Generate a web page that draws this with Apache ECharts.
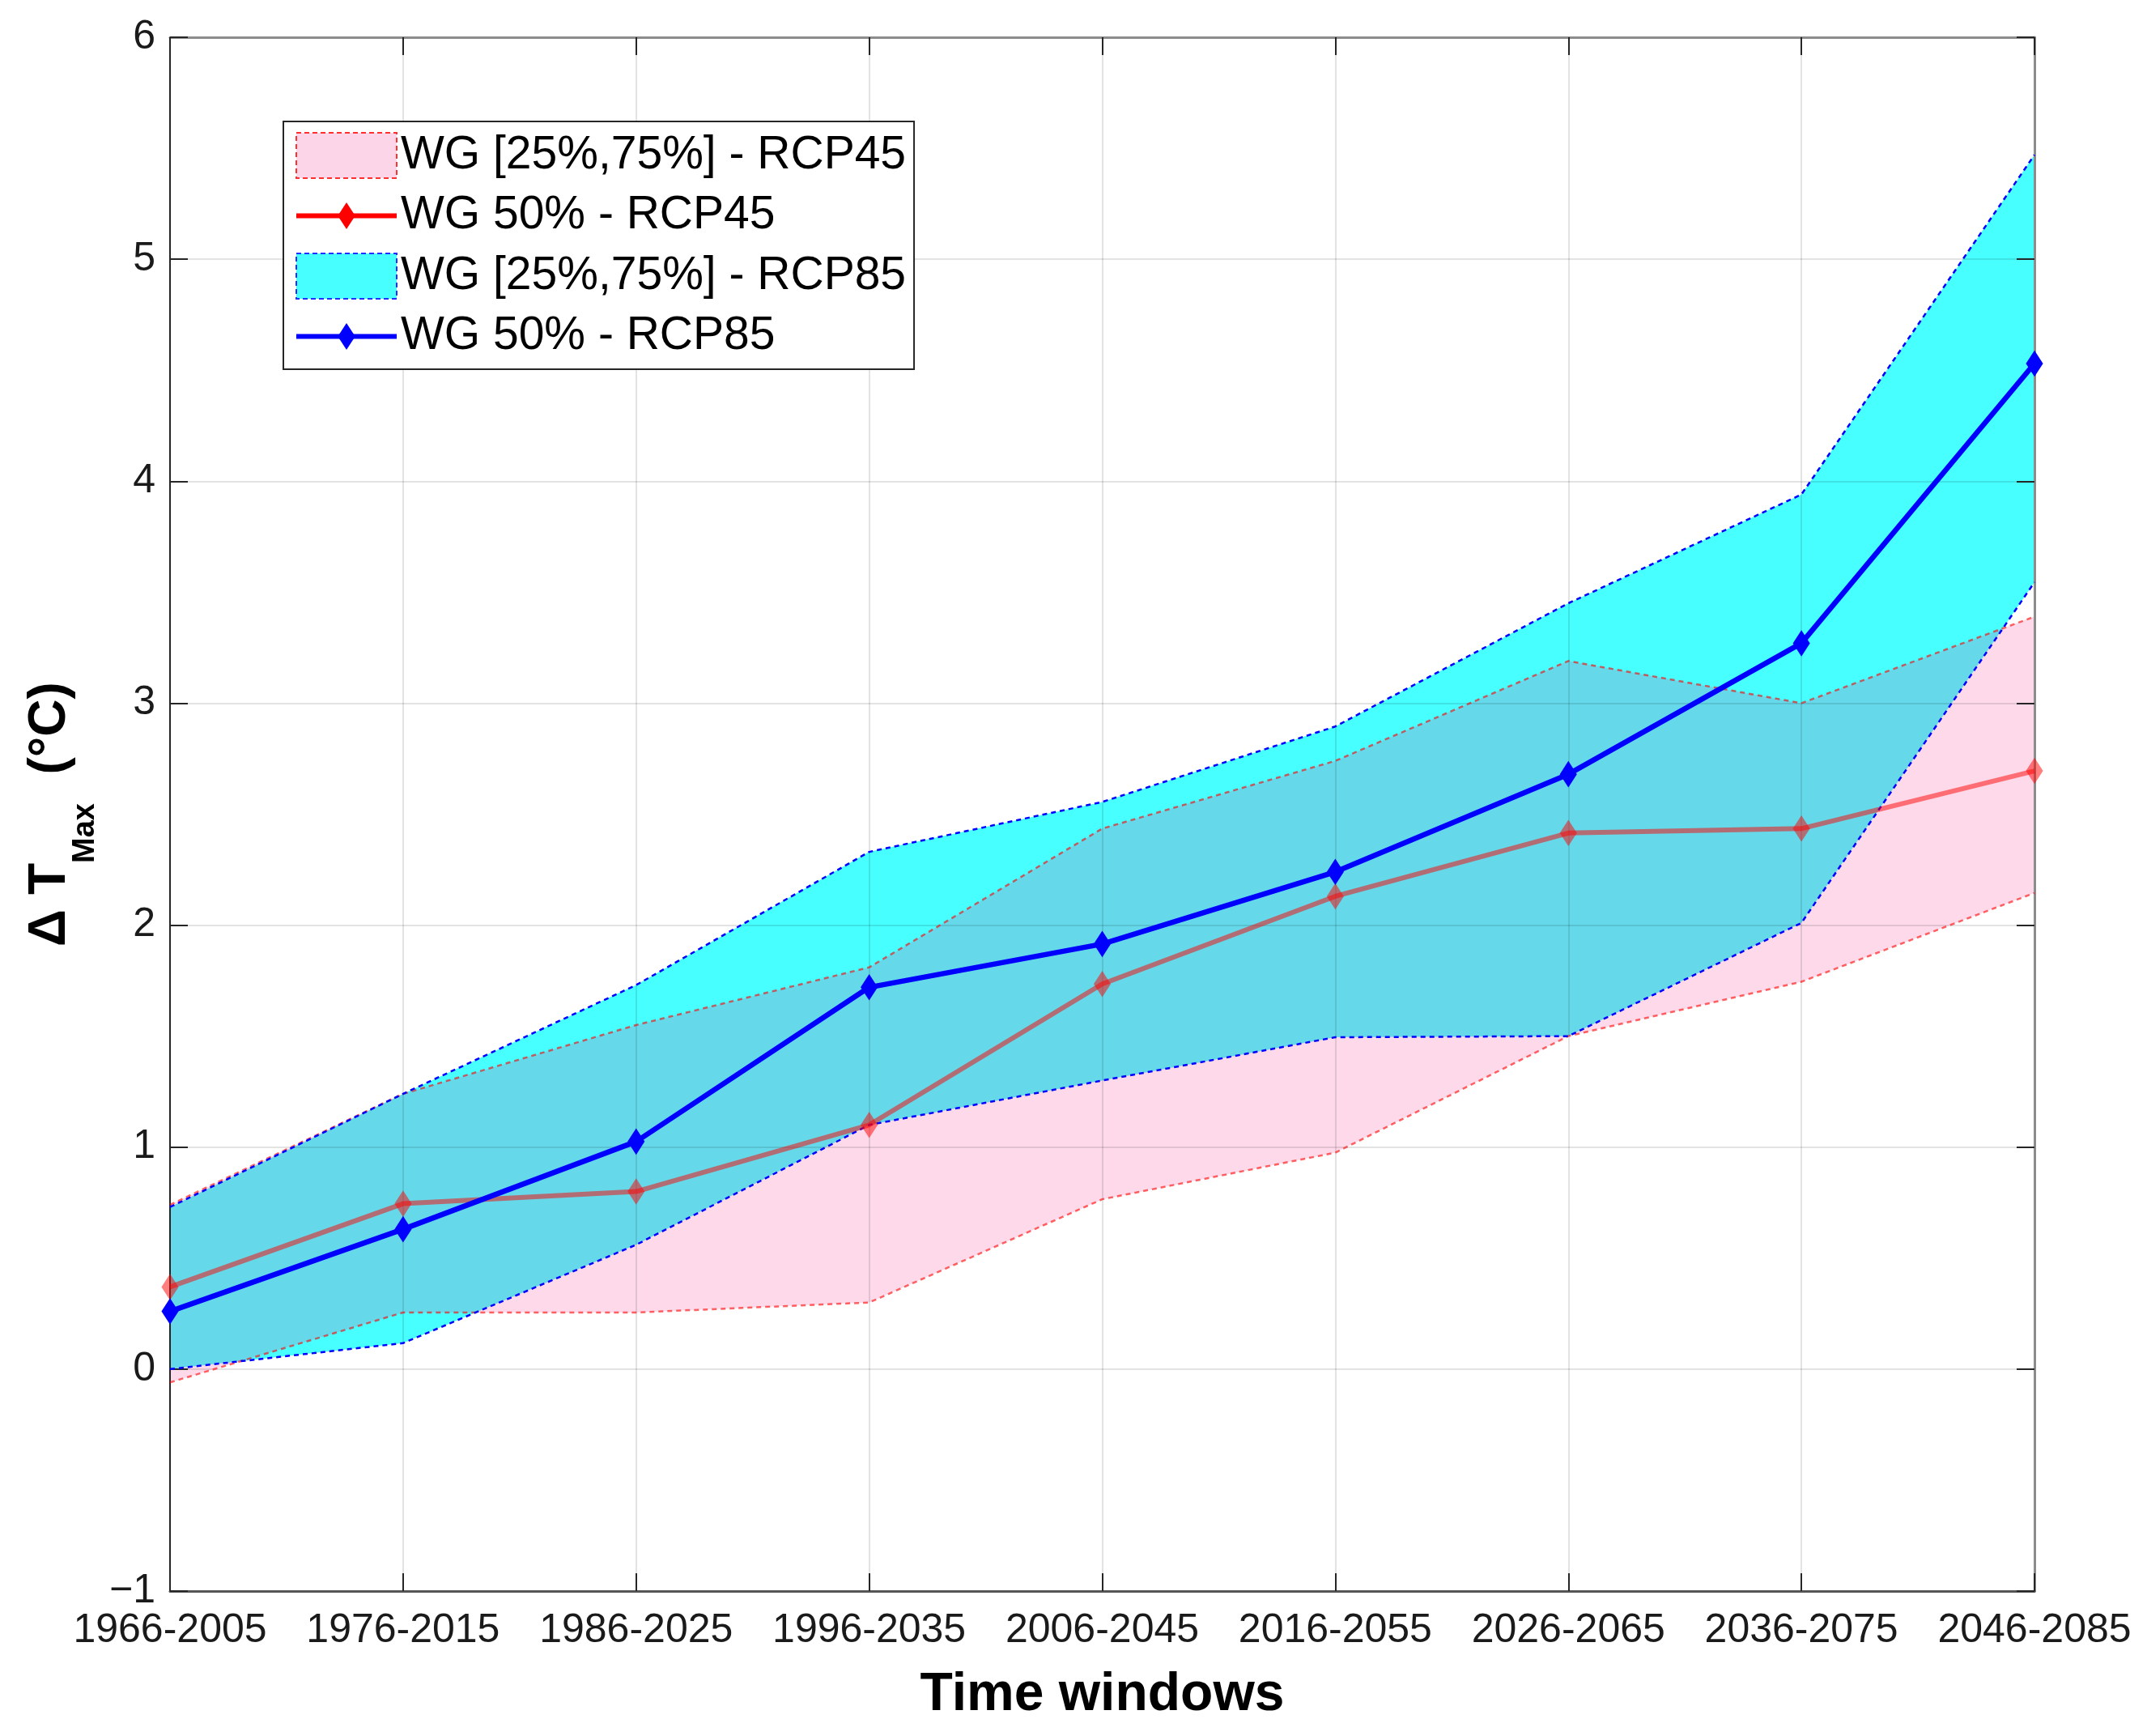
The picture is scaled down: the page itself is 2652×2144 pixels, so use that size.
<!DOCTYPE html>
<html>
<head>
<meta charset="utf-8">
<script src="https://cdn.jsdelivr.net/npm/echarts@6/dist/echarts.min.js"></script>
<style>
  html, body { margin: 0; padding: 0; background: #fff; }
  #chart { width: 2652px; height: 2144px; }
</style>
</head>
<body>
<div id="chart"></div>
<script>
// ---- Data ----
const categories = ['1966-2005', '1976-2015', '1986-2025', '1996-2035', '2006-2045', '2016-2055', '2026-2065', '2036-2075', '2046-2085'];

const rcp45Lower  = [-0.06, 0.255, 0.255, 0.30, 0.765, 0.975, 1.50, 1.745, 2.145];
const rcp45Median = [0.37, 0.745, 0.80, 1.10, 1.735, 2.13, 2.415, 2.435, 2.695];
const rcp45Upper  = [0.74, 1.24, 1.55, 1.81, 2.435, 2.74, 3.19, 3.00, 3.39];

const rcp85Lower  = [0.00, 0.117, 0.56, 1.10, 1.30, 1.495, 1.50, 2.01, 3.545];
const rcp85Median = [0.26, 0.63, 1.025, 1.72, 1.915, 2.24, 2.68, 3.27, 4.53];
const rcp85Upper  = [0.73, 1.24, 1.73, 2.33, 2.555, 2.895, 3.45, 3.94, 5.47];

const yMin = -1, yMax = 6, yStep = 1;

const legendNames = ['WG [25%,75%] - RCP45', 'WG 50% - RCP45', 'WG [25%,75%] - RCP85', 'WG 50% - RCP85'];

// ---- Derived band widths (upper - lower) for stacked fills ----
const band45 = rcp45Upper.map((u, i) => +(u - rcp45Lower[i]).toFixed(4));
const band85 = rcp85Upper.map((u, i) => +(u - rcp85Lower[i]).toFixed(4));

const FONT = "'Liberation Sans', Arial, Helvetica, sans-serif";
const DIAMOND = 'path://M-1,-1 M0,-0.74 L0.48,0 L0,0.74 L-0.48,0 Z M1,1';

const chart = echarts.init(document.getElementById('chart'), null, { renderer: 'canvas' });

const minusFmt = v => (v < 0 ? '\u2212' + Math.abs(v) : String(v));

const option = {
  animation: false,
  backgroundColor: '#ffffff',
  grid: { left: 210, right: 139, top: 46, bottom: 179, containLabel: false },
  legend: {
    orient: 'vertical',
    left: 350,
    top: 150,
    padding: [13, 10, 12, 13],
    itemWidth: 124,
    itemHeight: 56,
    itemGap: 17,
    selectedMode: false,
    backgroundColor: '#ffffff',
    borderColor: '#262626',
    borderWidth: 2,
    z: 20,
    textStyle: { fontFamily: FONT, fontSize: 57, color: '#000' },
    data: [
      { name: legendNames[0], icon: 'rect',
        itemStyle: { color: '#fdd5e8', borderColor: '#ff3030', borderWidth: 2, borderType: [6, 4], opacity: 1 } },
      { name: legendNames[1],
        itemStyle: { color: '#ff0000', opacity: 1, borderWidth: 0 },
        lineStyle: { color: '#ff0000', width: 6, opacity: 1 } },
      { name: legendNames[2], icon: 'rect',
        itemStyle: { color: '#48ffff', borderColor: '#2030ff', borderWidth: 2, borderType: [6, 4], opacity: 1 } },
      { name: legendNames[3],
        itemStyle: { color: '#0000ff', opacity: 1, borderWidth: 0 },
        lineStyle: { color: '#0000ff', width: 6, opacity: 1 } }
    ]
  },
  xAxis: [
    {
      type: 'category',
      data: categories,
      boundaryGap: false,
      position: 'bottom',
      z: 3,
      name: 'Time windows',
      nameLocation: 'middle',
      nameGap: 96,
      nameTextStyle: { fontFamily: FONT, fontSize: 66, fontWeight: 'bold', color: '#000', lineHeight: 66 },
      axisLine: { show: true, onZero: false, lineStyle: { color: '#555555', width: 3 } },
      axisTick: { show: true, inside: true, length: 22, lineStyle: { color: '#262626', width: 2 } },
      axisLabel: { show: true, interval: 0, margin: 24, fontFamily: FONT, fontSize: 50, color: '#1a1a1a' },
      splitLine: { show: true, lineStyle: { color: 'rgba(0,0,0,0.11)', width: 2 } }
    },
    {
      type: 'category',
      data: categories,
      boundaryGap: false,
      position: 'top',
      z: 3,
      axisLine: { show: true, onZero: false, lineStyle: { color: '#8c8c8c', width: 3 } },
      axisTick: { show: true, inside: true, length: 22, lineStyle: { color: '#262626', width: 2 } },
      axisLabel: { show: false },
      splitLine: { show: false }
    }
  ],
  yAxis: [
    {
      type: 'value',
      min: yMin,
      max: yMax,
      interval: yStep,
      position: 'left',
      z: 3,
      name: '{d|\u0394 T}{s|Max}{d|  (°C)}',
      nameLocation: 'middle',
      nameGap: 88,
      nameRotate: 90,
      nameTextStyle: {
        color: '#000',
        rich: {
          d: { fontFamily: FONT, fontSize: 64, fontWeight: 'bold', color: '#000', lineHeight: 64, verticalAlign: 'top' },
          s: { fontFamily: FONT, fontSize: 38, fontWeight: 'bold', color: '#000', lineHeight: 38, padding: [56, 0, 0, 0], verticalAlign: 'top' }
        }
      },
      axisLine: { show: true, onZero: false, lineStyle: { color: '#262626', width: 2 } },
      axisTick: { show: true, inside: true, length: 22, lineStyle: { color: '#262626', width: 2 } },
      axisLabel: { show: true, margin: 18, fontFamily: FONT, fontSize: 50, color: '#1a1a1a', formatter: minusFmt },
      splitLine: { show: true, lineStyle: { color: 'rgba(0,0,0,0.11)', width: 2 } }
    },
    {
      type: 'value',
      min: yMin,
      max: yMax,
      interval: yStep,
      position: 'right',
      z: 3,
      axisLine: { show: true, onZero: false, lineStyle: { color: '#8c8c8c', width: 3 } },
      axisTick: { show: true, inside: true, length: 22, lineStyle: { color: '#262626', width: 2 } },
      axisLabel: { show: false },
      splitLine: { show: false }
    }
  ],
  series: [
    // RCP85 band (base + width)
    { name: '_base85', type: 'line', data: rcp85Lower, stack: 'band85', stackStrategy: 'all',
      symbol: 'none', lineStyle: { width: 0, opacity: 0 }, silent: true, z: 1 },
    { name: legendNames[2], type: 'line', data: band85, stack: 'band85', stackStrategy: 'all',
      symbol: 'none', lineStyle: { width: 0, opacity: 0 }, silent: true, z: 1,
      itemStyle: { color: '#48ffff' },
      areaStyle: { color: 'rgba(0,255,255,0.72)', opacity: 1 } },
    // RCP45 band (base + width)
    { name: '_base45', type: 'line', data: rcp45Lower, stack: 'band45', stackStrategy: 'all',
      symbol: 'none', lineStyle: { width: 0, opacity: 0 }, silent: true, z: 2 },
    { name: legendNames[0], type: 'line', data: band45, stack: 'band45', stackStrategy: 'all',
      symbol: 'none', lineStyle: { width: 0, opacity: 0 }, silent: true, z: 2,
      itemStyle: { color: '#fdd5e8' },
      areaStyle: { color: 'rgba(243,40,130,0.175)', opacity: 1 } },
    // Band borders
    { name: '_lo45', type: 'line', data: rcp45Lower, symbol: 'none', silent: true, z: 4,
      lineStyle: { color: 'rgba(255,0,0,0.6)', width: 2.5, type: [6, 5] } },
    { name: '_up45', type: 'line', data: rcp45Upper, symbol: 'none', silent: true, z: 4,
      lineStyle: { color: 'rgba(255,0,0,0.6)', width: 2.5, type: [6, 5] } },
    { name: '_lo85', type: 'line', data: rcp85Lower, symbol: 'none', silent: true, z: 4,
      lineStyle: { color: '#0000ff', width: 2.5, type: [6, 5] } },
    { name: '_up85', type: 'line', data: rcp85Upper, symbol: 'none', silent: true, z: 4,
      lineStyle: { color: '#0000ff', width: 2.5, type: [6, 5] } },
    // Medians
    { name: legendNames[1], type: 'line', data: rcp45Median, z: 5,
      symbol: DIAMOND, symbolSize: 44, showSymbol: true,
      lineStyle: { color: 'rgba(255,0,0,0.5)', width: 6 },
      itemStyle: { color: 'rgba(255,0,0,0.5)', borderWidth: 0 } },
    { name: legendNames[3], type: 'line', data: rcp85Median, z: 6,
      symbol: DIAMOND, symbolSize: 44, showSymbol: true,
      lineStyle: { color: '#0000ff', width: 6.5 },
      itemStyle: { color: '#0000ff', borderWidth: 0 } }
  ]
};

chart.setOption(option);
</script>
</body>
</html>
